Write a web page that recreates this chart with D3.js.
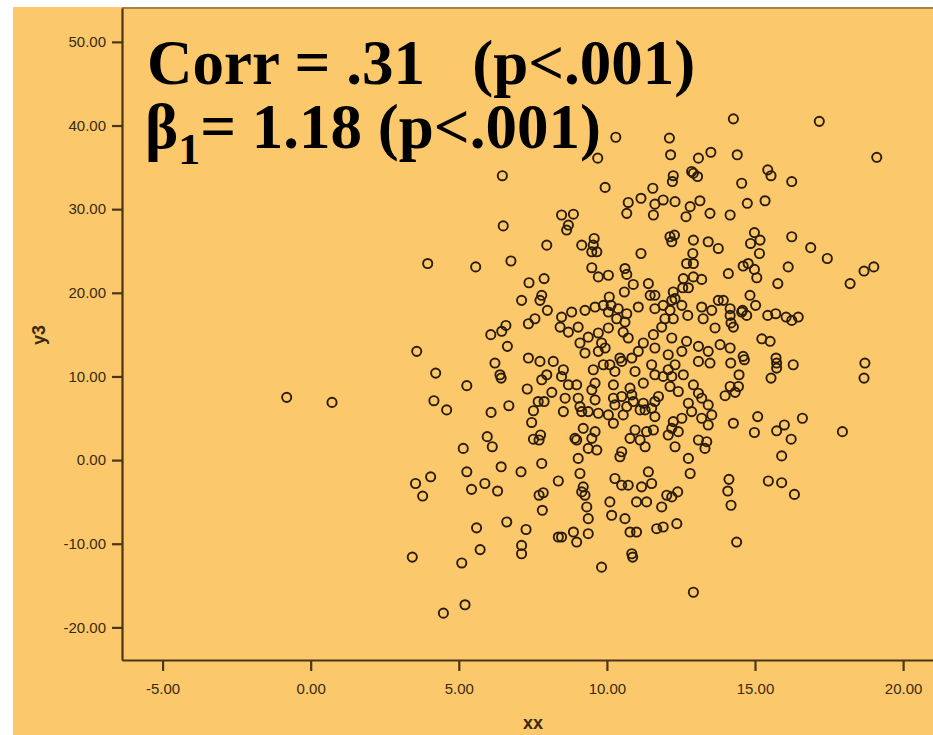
<!DOCTYPE html>
<html>
<head>
<meta charset="utf-8">
<script src="https://cdn.jsdelivr.net/npm/d3@7"></script>
<style>
  body { margin: 0; background: #fff; }
  svg { display: block; }
</style>
</head>
<body>
<svg id="chart" width="933" height="735"></svg>
<script>
// tick values
const xTicks = [-5, 0, 5, 10, 15, 20];
const yTicks = [-20, -10, 0, 10, 20, 30, 40, 50];

// annotation text
const corrLine = "Corr = .31   (p<.001)";
const betaRest = "= 1.18 (p<.001)";

// scatter values [xx, y3]
const points = [
  [-0.81, 7.5], [0.72, 6.9],
  // left / lower group
  [6.47, 34.0], [6.50, 28.0], [7.97, 25.7], [3.95, 23.5], [5.57, 23.1], [6.76, 23.8],
  [7.37, 21.2], [7.88, 21.7], [7.12, 19.1], [7.74, 19.1], [7.80, 19.7], [7.99, 17.9],
  [7.35, 16.3], [7.57, 16.9], [6.08, 15.0], [6.45, 15.4], [6.59, 16.1], [6.64, 13.6],
  [3.58, 13.0], [6.22, 11.6], [7.35, 12.2], [7.74, 11.8], [8.19, 11.8],
  [4.22, 10.4], [5.27, 8.9], [6.39, 10.2], [6.43, 9.8], [4.16, 7.1], [4.59, 6.0],
  [6.09, 5.7], [6.69, 6.5], [7.31, 8.5], [7.80, 9.6], [7.97, 10.2], [8.14, 8.1],
  [7.68, 7.0], [7.88, 7.0], [7.52, 5.9], [7.46, 4.5], [7.52, 2.5], [7.71, 2.4],
  [7.76, 3.0], [5.96, 2.8], [6.13, 1.6], [5.15, 1.4], [6.43, -0.8], [7.10, -1.4],
  [7.80, -0.4], [5.27, -1.4], [3.54, -2.8], [4.05, -2.0], [3.78, -4.3], [5.43, -3.5],
  [5.88, -2.8], [6.31, -3.7], [7.71, -4.2], [7.85, -3.9], [7.82, -6.0], [8.36, -2.5],
  [6.62, -7.4], [7.27, -8.3], [5.60, -8.1], [7.12, -10.2], [7.12, -11.2], [5.72, -10.7],
  [8.36, -9.2], [3.43, -11.6], [5.10, -12.3], [5.21, -17.3], [4.48, -18.3],
  // upper middle
  [10.30, 38.6], [12.11, 38.5], [9.69, 36.1], [12.15, 36.5], [13.09, 36.1], [13.51, 36.8],
  [12.86, 34.5], [13.06, 33.9], [12.92, 34.3], [12.24, 34.0], [12.21, 33.3], [9.94, 32.6],
  [11.55, 32.5], [11.15, 31.3], [10.72, 30.8], [10.67, 29.5], [11.62, 30.6], [11.90, 31.1],
  [12.30, 30.9], [11.57, 29.3], [12.81, 30.3], [13.14, 31.0], [13.48, 29.5], [12.67, 29.1],
  [8.47, 29.3], [8.87, 29.4], [8.70, 28.1], [8.64, 27.5], [9.57, 26.5], [9.54, 25.7],
  [9.15, 25.7], [9.49, 24.9], [9.66, 24.9], [11.15, 24.7], [12.13, 26.7], [12.28, 26.9],
  [12.19, 26.1], [12.92, 26.3], [13.42, 26.1], [13.76, 25.3], [12.90, 24.7], [12.69, 23.5],
  [12.92, 23.5], [9.49, 23.0], [9.71, 21.9], [10.05, 22.1], [10.61, 22.9], [10.67, 22.2],
  [10.89, 21.0], [11.40, 21.1], [11.46, 19.7], [11.62, 19.7], [10.59, 20.1], [12.58, 21.7],
  [12.92, 21.9], [13.20, 21.6], [12.75, 20.6], [12.56, 20.6], [12.24, 20.1], [12.19, 19.1],
  [12.30, 19.3], [10.08, 19.5], [10.14, 18.5], [9.88, 18.5], [8.47, 17.1], [8.81, 17.7],
  [9.26, 17.9], [9.60, 18.3], [10.05, 17.7], [10.38, 18.1], [10.67, 17.5], [10.33, 16.9],
  [10.61, 16.5], [11.06, 18.3], [11.62, 18.1], [11.90, 18.5], [12.13, 17.9], [11.96, 16.9],
  [12.24, 16.9], [11.85, 15.9], [12.53, 18.5], [12.73, 17.3], [13.20, 18.3], [13.25, 16.9],
  [13.54, 17.9], [13.76, 19.1], [13.65, 15.8], [8.42, 15.9], [8.70, 15.3], [9.03, 15.9],
  [9.37, 14.7], [9.71, 15.2], [10.05, 15.8], [9.82, 14.0], [10.55, 15.3], [10.72, 14.6],
  [11.23, 14.0], [11.57, 15.0], [11.06, 13.0], [11.62, 13.4], [12.19, 14.6], [12.69, 14.2],
  [13.09, 13.6], [13.42, 13.0], [9.09, 14.0], [9.26, 12.8], [9.71, 13.0], [9.94, 13.4],
  [10.44, 12.2], [10.84, 12.2], [12.07, 12.6], [12.53, 13.0],
  // lower middle
  [8.53, 10.8], [8.47, 10.0], [8.98, 9.0], [8.70, 9.0], [8.59, 7.4], [8.53, 5.8],
  [9.54, 10.8], [9.60, 9.2], [9.49, 8.4], [9.60, 7.2], [9.03, 7.4], [9.09, 6.4],
  [9.15, 5.8], [9.37, 5.8], [9.71, 5.6], [9.88, 11.4], [10.10, 11.4], [10.27, 10.6],
  [10.22, 9.0], [10.22, 7.4], [10.27, 6.6], [10.05, 5.4], [10.22, 4.4], [10.55, 5.4],
  [10.50, 11.8], [10.95, 10.6], [11.23, 9.2], [10.78, 8.6], [10.84, 7.8], [10.89, 7.0],
  [10.67, 6.4], [10.50, 7.6], [11.23, 6.8], [11.29, 6.0], [11.62, 7.0], [11.74, 7.6],
  [11.62, 5.2], [11.51, 6.2], [11.12, 6.0], [11.51, 11.4], [11.62, 10.2], [11.90, 10.0],
  [12.07, 10.8], [12.30, 11.4], [12.19, 10.0], [12.13, 8.8], [12.41, 8.2], [12.58, 10.2],
  [12.92, 9.0], [12.75, 6.8], [12.86, 5.8], [13.09, 8.0], [13.20, 7.4], [13.42, 6.6],
  [13.54, 5.4], [13.20, 5.0], [13.42, 4.2], [13.09, 11.8], [13.48, 11.6], [12.24, 4.6],
  [12.53, 5.0], [12.19, 3.8], [12.41, 3.4], [12.07, 3.0], [12.30, 1.6], [12.75, 0.2],
  [12.81, -1.6], [13.09, 2.4], [13.37, 2.2], [13.31, 1.4], [10.95, 3.6], [10.78, 2.6],
  [11.12, 2.4], [11.34, 3.4], [11.57, 3.6], [11.29, 1.6], [9.20, 3.8], [8.92, 2.6],
  [8.98, 2.4], [9.60, 3.4], [9.49, 2.6], [9.37, 1.4], [9.66, 1.2], [10.50, 1.0],
  [10.44, 0.4], [9.03, 0.2], [9.09, -1.6], [9.20, -3.2], [9.15, -3.8], [9.26, -4.2],
  [9.32, -5.6], [9.37, -7.0], [10.27, -2.2], [10.50, -3.0], [10.72, -3.0], [10.10, -5.0],
  [10.16, -6.6], [10.61, -7.0], [11.40, -1.4], [11.51, -2.8], [11.17, -3.2], [11.00, -5.0],
  [11.34, -5.0], [11.85, -5.6], [12.02, -4.2], [12.19, -4.4], [12.39, -3.8], [10.78, -8.6],
  [11.00, -8.6], [11.68, -8.2], [11.90, -8.0], [12.36, -7.6], [8.47, -9.2], [8.87, -8.6],
  [8.98, -9.8], [9.37, -8.8], [10.84, -11.2], [10.87, -11.6], [9.82, -12.8], [12.92, -15.8],
  // right group
  [14.27, 40.8], [17.17, 40.5], [19.11, 36.2], [14.40, 36.5], [15.43, 34.7], [15.54, 34.0],
  [14.55, 33.1], [16.24, 33.3], [14.74, 30.7], [15.34, 31.0], [14.16, 29.3], [14.98, 27.2],
  [14.85, 25.9], [15.17, 26.3], [15.15, 24.7], [16.24, 26.7], [16.88, 25.4], [17.44, 24.1],
  [14.60, 23.2], [14.77, 23.5], [14.98, 22.8], [15.06, 21.8], [14.10, 22.3], [16.12, 23.1],
  [15.77, 21.1], [18.21, 21.1], [18.68, 22.6], [19.01, 23.1], [14.83, 19.7], [15.02, 18.5],
  [13.93, 19.1], [14.16, 18.1], [14.16, 17.3], [14.55, 17.7], [14.58, 17.9], [14.72, 17.3],
  [14.19, 16.4], [14.27, 15.9], [15.43, 17.3], [15.70, 17.5], [16.05, 17.1], [16.24, 16.7],
  [16.46, 17.1], [15.23, 14.5], [15.51, 14.2], [13.82, 13.8], [14.16, 13.4], [14.60, 12.4],
  [15.71, 12.2],
  [14.18, 11.6], [14.64, 12.0], [14.46, 10.2], [14.16, 8.8], [14.44, 8.8], [14.33, 8.1],
  [13.99, 7.7], [15.73, 11.6], [15.73, 11.0], [15.54, 9.8], [16.29, 11.4], [18.71, 11.6],
  [18.68, 9.8], [14.27, 4.4], [15.09, 5.2], [14.98, 3.3], [15.73, 3.5], [15.99, 4.2],
  [16.22, 2.5], [16.60, 5.0], [17.95, 3.4], [15.90, 0.5], [14.12, -2.3], [14.08, -3.7],
  [14.19, -5.4], [15.45, -2.5], [15.90, -2.7], [16.33, -4.1], [14.38, -9.8]
];

const svg = d3.select("#chart");
const bg = "#fbc96b";
const ink = "#4b3516";

// orange panel (white strip left/top like the original)
svg.append("rect")
  .attr("x", 13).attr("y", 7)
  .attr("width", 933 - 13).attr("height", 735 - 7)
  .attr("fill", bg);

let x = d3.scaleLinear().domain([-6.37, 21.9]).range([122, 959.4]);
let y = d3.scaleLinear().domain([-23.9, 54.05]).range([660, 8]);

// frame top line
svg.append("line")
  .attr("x1", x.range()[0]).attr("x2", 933)
  .attr("y1", y.range()[1]).attr("y2", y.range()[1])
  .attr("stroke", "#8a6a3a").attr("stroke-width", 1.5);

// SPSS style labels: plain hyphen for negatives
let fmt = function (d) { return d3.format(".2f")(d).replace("\u2212", "-"); };

let xAxis = d3.axisBottom(x)
  .tickValues(xTicks)
  .tickFormat(fmt)
  .tickSizeInner(11).tickSizeOuter(0)
  .tickPadding(6);

let yAxis = d3.axisLeft(y)
  .tickValues(yTicks)
  .tickFormat(fmt)
  .tickSizeInner(10).tickSizeOuter(0)
  .tickPadding(6);

let gx = svg.append("g")
  .attr("transform", "translate(0," + y.range()[0] + ")")
  .call(xAxis);

let gy = svg.append("g")
  .attr("transform", "translate(" + x.range()[0] + ",0)")
  .call(yAxis);

[gx, gy].forEach(function (g) {
  g.select(".domain").attr("stroke", ink).attr("stroke-width", 2.2);
  g.selectAll(".tick line").attr("stroke", ink).attr("stroke-width", 2.2);
  g.selectAll(".tick text")
    .attr("fill", "#3a2a12")
    .style("font-family", "'Liberation Sans', Arial, sans-serif")
    .style("font-size", "15px");
});
gx.selectAll(".tick text").attr("dy", "1.1em");

// axis titles
svg.append("text")
  .attr("x", 533).attr("y", 729)
  .attr("text-anchor", "middle")
  .attr("fill", "#3a2a12")
  .style("font-family", "'Liberation Sans', Arial, sans-serif")
  .style("font-weight", "bold")
  .style("font-size", "18px")
  .text("xx");

svg.append("text")
  .attr("transform", "translate(45,335) rotate(-90)")
  .attr("text-anchor", "middle")
  .attr("fill", "#3a2a12")
  .style("font-family", "'Liberation Sans', Arial, sans-serif")
  .style("font-weight", "bold")
  .style("font-size", "18px")
  .text("y3");

// points
svg.append("g")
  .selectAll("circle")
  .data(points)
  .enter()
  .append("circle")
  .attr("cx", function (d) { return x(d[0]); })
  .attr("cy", function (d) { return y(d[1]); })
  .attr("r", 4.6)
  .attr("fill", "none")
  .attr("stroke", "#2a1c08")
  .attr("stroke-width", 1.9);

// big annotation
let note = svg.append("g")
  .style("font-family", "'Liberation Serif', 'Times New Roman', serif")
  .style("font-weight", "bold")
  .attr("fill", "#000");

note.append("text")
  .attr("x", 147).attr("y", 84)
  .attr("xml:space", "preserve")
  .style("white-space", "pre")
  .style("font-size", "63px")
  .text(corrLine);

let beta = note.append("text")
  .attr("x", 145).attr("y", 148)
  .style("font-size", "63px");
beta.append("tspan").text("\u03b2");
beta.append("tspan")
  .attr("dy", 16)
  .style("font-size", "44px")
  .text("1");
beta.append("tspan")
  .attr("dy", -16)
  .text(betaRest);
</script>
</body>
</html>
